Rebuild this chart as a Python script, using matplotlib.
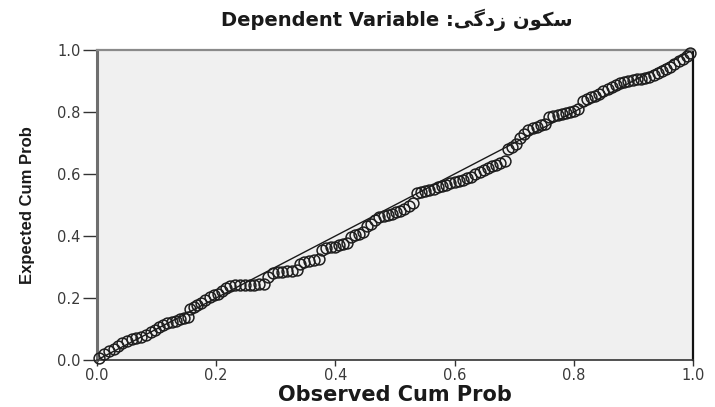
#!/usr/bin/env python3
"""Normal P-P plot of regression standardized residual (SPSS style)."""

import matplotlib
matplotlib.use("Agg")
import matplotlib.pyplot as plt

# ------------------------------------------------------------------
# Data
# ------------------------------------------------------------------
observed_cum_prob = [
    0.004, 0.012, 0.020, 0.028, 0.035, 0.042, 0.050, 0.058, 0.066, 0.074,
    0.082, 0.090, 0.097, 0.104, 0.111, 0.118, 0.125, 0.132, 0.139, 0.146,
    0.152, 0.156, 0.162, 0.168, 0.175, 0.182, 0.189, 0.196, 0.203, 0.210,
    0.217, 0.224, 0.232, 0.240, 0.248, 0.256, 0.264, 0.272, 0.280, 0.287,
    0.295, 0.303, 0.311, 0.319, 0.327, 0.335, 0.340, 0.348, 0.356, 0.364,
    0.372, 0.378, 0.385, 0.392, 0.399, 0.406, 0.413, 0.420, 0.426, 0.433,
    0.440, 0.447, 0.453, 0.460, 0.467, 0.474, 0.481, 0.488, 0.495, 0.502,
    0.509, 0.516, 0.523, 0.530, 0.537, 0.544, 0.551, 0.558, 0.565, 0.572,
    0.579, 0.586, 0.593, 0.600, 0.607, 0.614, 0.621, 0.628, 0.635, 0.642,
    0.649, 0.656, 0.663, 0.670, 0.677, 0.684, 0.690, 0.697, 0.704, 0.710,
    0.717, 0.724, 0.731, 0.738, 0.745, 0.752, 0.759, 0.766, 0.773, 0.780,
    0.787, 0.794, 0.801, 0.808, 0.815, 0.822, 0.829, 0.836, 0.843, 0.850,
    0.857, 0.864, 0.871, 0.878, 0.885, 0.892, 0.899, 0.906, 0.913, 0.920,
    0.927, 0.934, 0.941, 0.948, 0.955, 0.962, 0.969, 0.976, 0.983, 0.990,
    0.996,
]
expected_cum_prob = [
    0.008, 0.020, 0.028, 0.036, 0.045, 0.055, 0.062, 0.067, 0.071, 0.074,
    0.082, 0.090, 0.098, 0.105, 0.113, 0.120, 0.123, 0.127, 0.131, 0.135,
    0.140, 0.165, 0.172, 0.178, 0.184, 0.195, 0.203, 0.209, 0.214, 0.222,
    0.232, 0.240, 0.242, 0.242, 0.242, 0.243, 0.243, 0.244, 0.246, 0.268,
    0.281, 0.283, 0.285, 0.286, 0.288, 0.290, 0.310, 0.315, 0.318, 0.322,
    0.326, 0.356, 0.360, 0.363, 0.366, 0.370, 0.374, 0.378, 0.398, 0.403,
    0.408, 0.413, 0.432, 0.440, 0.450, 0.460, 0.466, 0.469, 0.472, 0.476,
    0.480, 0.488, 0.497, 0.505, 0.538, 0.541, 0.544, 0.547, 0.550, 0.558,
    0.562, 0.566, 0.570, 0.574, 0.578, 0.582, 0.586, 0.590, 0.600, 0.607,
    0.613, 0.619, 0.625, 0.630, 0.636, 0.642, 0.680, 0.688, 0.697, 0.715,
    0.730, 0.742, 0.748, 0.752, 0.757, 0.762, 0.784, 0.788, 0.791, 0.794,
    0.797, 0.800, 0.804, 0.810, 0.835, 0.842, 0.848, 0.853, 0.858, 0.868,
    0.875, 0.882, 0.888, 0.893, 0.897, 0.900, 0.903, 0.906, 0.908, 0.911,
    0.914, 0.920, 0.926, 0.932, 0.938, 0.946, 0.955, 0.963, 0.972, 0.982,
    0.990,
]
ref_line = [0.0, 1.0]
tick_values = [0.0, 0.2, 0.4, 0.6, 0.8, 1.0]
tick_labels = ["0.0", "0.2", "0.4", "0.6", "0.8", "1.0"]

# "سکون زدگی" written in Arabic presentation forms, visual order,
# because matplotlib does no Arabic shaping / bidi by itself.
VAR_NAME_VISUAL = "\uFBFD\uFB94\uFEA9\uFEAF \uFEE5\uFEEE\uFB91\uFEB3"
TITLE = "Dependent Variable :" + VAR_NAME_VISUAL

PLOT_BG = "#F0F0F0"
INK = "#1A1A1A"


def main():
    fig = plt.figure(figsize=(7.15, 4.07), dpi=100, facecolor="white")
    ax = fig.add_axes([0.1357, 0.1155, 0.8333, 0.7617])
    ax.set_facecolor(PLOT_BG)

    ax.plot(ref_line, ref_line, color=INK, lw=1.0, zorder=2)
    ax.plot(observed_cum_prob, expected_cum_prob, ls="none", marker="o",
            ms=7.8, mfc="none", mec="#1E1E1E", mew=1.1, zorder=3,
            clip_on=False)

    ax.set_xlim(0, 1)
    ax.set_ylim(0, 1)
    ax.set_xticks(tick_values)
    ax.set_xticklabels(tick_labels)
    ax.set_yticks(tick_values)
    ax.set_yticklabels(tick_labels)
    ax.tick_params(axis="x", length=4, width=1.0, color="#333333",
                   labelsize=10.5, labelcolor="#3A3A3A", pad=2)
    ax.tick_params(axis="y", length=10, width=1.0, color="#333333",
                   labelsize=10.5, labelcolor="#3A3A3A", pad=2)

    ax.spines["left"].set_color("#6E6E6E")
    ax.spines["left"].set_linewidth(2.2)
    ax.spines["top"].set_color("#8A8A8A")
    ax.spines["top"].set_linewidth(1.6)
    ax.spines["right"].set_color("#111111")
    ax.spines["right"].set_linewidth(1.6)
    ax.spines["bottom"].set_color("#333333")
    ax.spines["bottom"].set_linewidth(1.2)

    ax.set_xlabel("Observed Cum Prob", fontsize=15, fontweight="bold",
                  color=INK, labelpad=1, family="DejaVu Sans")
    ax.set_ylabel("Expected Cum Prob", fontsize=12, fontweight="bold",
                  color=INK, labelpad=16, family="Liberation Sans")

    fig.text(0.555, 0.95, TITLE, ha="center", va="center",
             fontsize=14, fontweight="bold", color=INK,
             family=["DejaVu Sans"])

    fig.savefig("out.png", dpi=100, facecolor="white")


if __name__ == "__main__":
    main()
